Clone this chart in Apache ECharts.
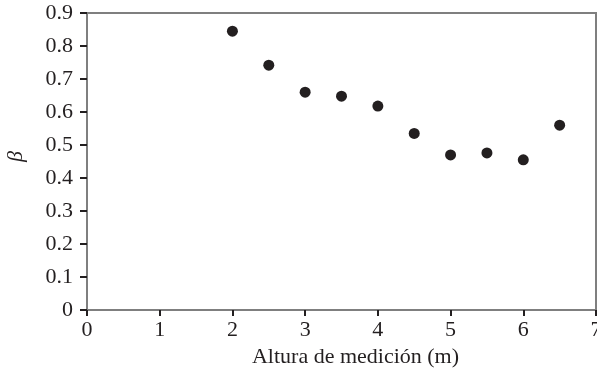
<!DOCTYPE html>
<html>
<head>
<meta charset="utf-8">
<script src="https://cdn.jsdelivr.net/npm/echarts@6/dist/echarts.min.js"></script>
<style>
  html, body { margin: 0; padding: 0; background: #fff; }
  #chart { width: 597px; height: 373px; }
</style>
</head>
<body>
<div id="chart"></div>
<script>
// altura de medición (m) y beta
const alturas = [2, 2.5, 3, 3.5, 4, 4.5, 5, 5.5, 6, 6.5];
const beta = [0.845, 0.742, 0.66, 0.648, 0.618, 0.535, 0.47, 0.476, 0.455, 0.56];

const font = 'Liberation Serif';

let myChart = echarts.init(document.getElementById('chart'));

let option = {
  animation: false,
  grid: {
    left: 87,
    right: 1,
    top: 13,
    bottom: 63,
    outerBoundsMode: 'none',
    show: true,
    borderColor: '#7f7f7f',
    borderWidth: 2
  },
  xAxis: {
    type: 'value',
    min: 0,
    max: 7,
    interval: 1,
    name: 'Altura de medición (m)',
    nameLocation: 'middle',
    nameGap: 36,
    nameTextStyle: { fontFamily: font, fontSize: 22, color: '#231f20', padding: [0, 0, 0, 28] },
    axisLine: { lineStyle: { color: '#7f7f7f', width: 2 } },
    axisTick: { length: 6, lineStyle: { color: '#231f20', width: 2 } },
    axisLabel: { fontFamily: font, fontSize: 22, color: '#231f20', margin: 9 },
    splitLine: { show: false }
  },
  yAxis: {
    type: 'value',
    min: 0,
    max: 0.9,
    interval: 0.1,
    name: 'β',
    nameLocation: 'middle',
    nameRotate: 90,
    nameGap: 60,
    nameTextStyle: { fontFamily: font, fontSize: 22, fontStyle: 'italic', color: '#231f20', padding: [0, 0, 0, 10] },
    axisLine: { lineStyle: { color: '#7f7f7f', width: 2 } },
    axisTick: { length: 7, lineStyle: { color: '#231f20', width: 2 } },
    axisLabel: {
      fontFamily: font, fontSize: 22, color: '#231f20', margin: 14,
      formatter: function (v) { return v === 0 ? '0' : v.toFixed(1); }
    },
    splitLine: { show: false }
  },
  series: [
    {
      type: 'scatter',
      symbol: 'circle',
      symbolSize: 11,
      itemStyle: { color: '#231f20', opacity: 1 },
      data: alturas.map((x, i) => [x, beta[i]])
    }
  ]
};

option && myChart.setOption(option);
</script>
</body>
</html>
